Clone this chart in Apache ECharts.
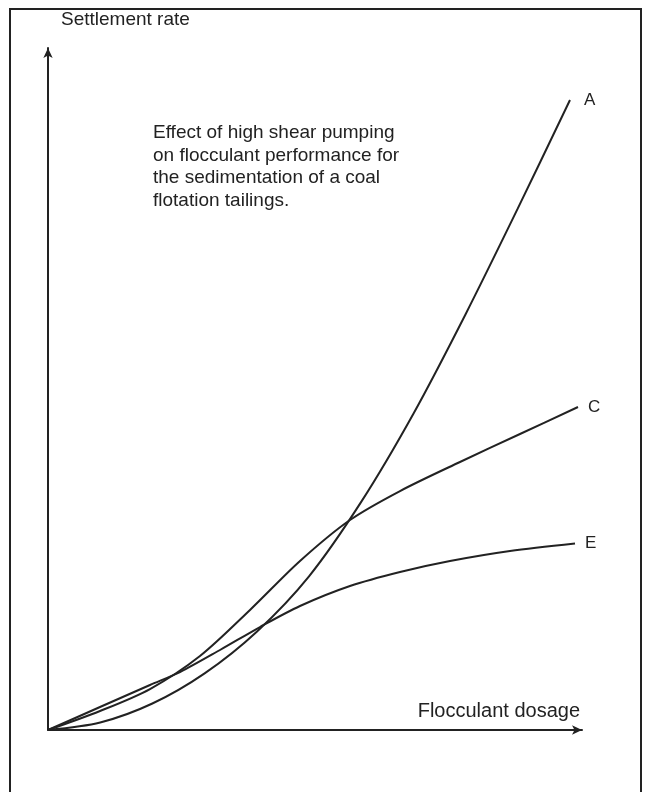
<!DOCTYPE html>
<html>
<head>
<meta charset="utf-8">
<script src="https://cdn.jsdelivr.net/npm/echarts@6/dist/echarts.min.js"></script>
<style>html,body{margin:0;padding:0;background:#fff;}#chart{width:651px;height:792px;}</style>
</head>
<body>
<div id="chart"></div>
<script>
// Flocculant dosage (relative units) vs settlement rate (relative units)
const seriesNames = ['A', 'C', 'E'];
const curveA = [[0,0],[9.78,1.11],[19.55,3.89],[29.33,8.31],[39.10,14.42],[48.88,22.54],[58.65,33.45],[68.43,46.38],[78.20,60.97],[87.98,76.48],[97.75,92.38]];
const curveC = [[0,0],[9.74,2.79],[19.10,6.01],[28.46,10.85],[37.83,17.60],[47.19,24.78],[56.55,30.79],[65.92,35.04],[77.15,39.30],[88.39,43.40],[99.25,47.36]];
const curveE = [[0,0],[9.74,3.37],[19.10,6.60],[24.72,8.50],[32.21,11.73],[39.70,15.10],[47.19,18.18],[56.55,21.11],[65.92,23.17],[75.28,24.78],[86.52,26.25],[98.69,27.35]];
const xAxisName = 'Flocculant dosage';
const yAxisName = 'Settlement rate';
const noteLines = ['Effect of high shear pumping', 'on flocculant performance for', 'the sedimentation of a coal', 'flotation tailings.'];

const FONT = 'Liberation Sans, Arial, sans-serif';
const INK = '#222';
const chart = echarts.init(document.getElementById('chart'), null, {renderer: 'canvas'});

function mkSeries(name, data, dx) {
  return {
    name: name, type: 'line', data: data, smooth: 0.3, symbol: 'none',
    lineStyle: {color: INK, width: 2}, silent: true,
    endLabel: {show: true, formatter: name, color: INK, fontSize: 17, fontFamily: FONT, offset: [dx, 0]}
  };
}

chart.setOption({
  animation: false,
  backgroundColor: '#fff',
  grid: {left: 48, right: 69, top: 48, bottom: 62},
  xAxis: {
    type: 'value', min: 0, max: 100,
    axisLine: {show: true, symbol: ['none', 'arrow'], symbolSize: [7, 10], lineStyle: {color: INK, width: 2}},
    axisTick: {show: false}, axisLabel: {show: false}, splitLine: {show: false}
  },
  yAxis: {
    type: 'value', min: 0, max: 100,
    axisLine: {show: true, symbol: ['none', 'arrow'], symbolSize: [7, 10], lineStyle: {color: INK, width: 2}},
    axisTick: {show: false}, axisLabel: {show: false}, splitLine: {show: false}
  },
  series: [mkSeries(seriesNames[0], curveA, 6), mkSeries(seriesNames[1], curveC, 2), mkSeries(seriesNames[2], curveE, 2)],
  graphic: [
    {type: 'rect', shape: {x: 10, y: 9, width: 631, height: 800}, style: {fill: 'none', stroke: INK, lineWidth: 2}, silent: true},
    {type: 'text', left: 61, top: 10, style: {text: yAxisName, font: '19px ' + FONT, fill: INK}},
    {type: 'text', right: 71, top: 701, style: {text: xAxisName, font: '20px ' + FONT, fill: INK}},
    {type: 'text', left: 153, top: 122, style: {text: noteLines.join('\n'), font: '19px ' + FONT, lineHeight: 22.5, fill: INK}}
  ]
});
</script>
</body>
</html>
